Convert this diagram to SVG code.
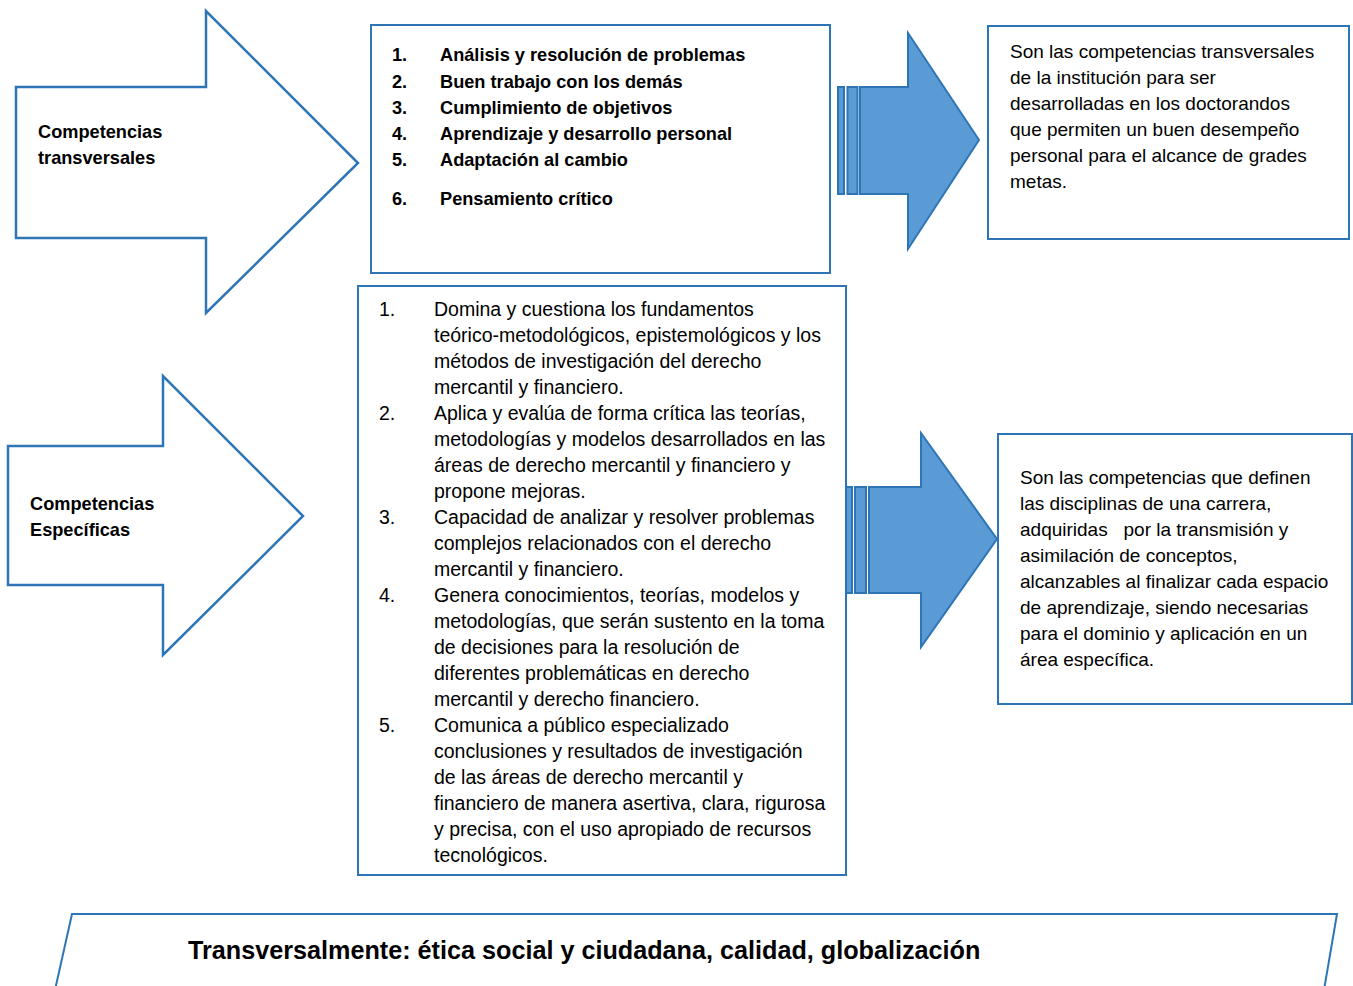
<svg xmlns="http://www.w3.org/2000/svg" width="1353" height="986" viewBox="0 0 1353 986">
<defs>
<style>
.box{fill:#fff;stroke:#2E75B6;stroke-width:2}
.warr{fill:#fff;stroke:#2E75B6;stroke-width:2.5;stroke-linejoin:miter}
.barr{fill:#5B9BD5;stroke:#2E75B6;stroke-width:2}
.t{font-family:"Liberation Sans",Arial,sans-serif;font-size:19px;fill:#000}
.tl{font-family:"Liberation Sans",Arial,sans-serif;font-size:19.5px;fill:#000}
.b{font-family:"Liberation Sans",Arial,sans-serif;font-size:18.2px;font-weight:bold;fill:#000}
.big{font-family:"Liberation Sans",Arial,sans-serif;font-size:25.2px;font-weight:bold;fill:#000}
</style>
<clipPath id="clipSpec"><rect x="358" y="286" width="488" height="580"/></clipPath>
</defs>
<rect width="1353" height="986" fill="#fff"/>

<g id="connectors">
<g id="arrow-blue-top">
<rect class="barr" x="838" y="87" width="6" height="107"/>
<rect class="barr" x="847.5" y="87" width="10" height="107"/>
<polygon class="barr" points="860,87 908,87 908,33 979,140 908,249 908,194 860,194"/>
</g>
<g id="arrow-blue-bottom">
<rect class="barr" x="846" y="487" width="6" height="106"/>
<rect class="barr" x="855" y="487" width="11" height="106"/>
<polygon class="barr" points="869,487 921,487 921,433 997,539 921,647 921,593 869,593"/>
</g>
</g>

<g id="node-comp-transversales">
<polygon class="warr" points="16,87 206,87 206,11 358,163 206,313 206,238 16,238"/>
<text class="b" x="38" y="138">Competencias</text>
<text class="b" x="38" y="164">transversales</text>
</g>

<g id="node-comp-especificas">
<polygon class="warr" points="8,446 163,446 163,376 303,516 163,655 163,585 8,585"/>
<text class="b" x="30" y="510">Competencias</text>
<text class="b" x="30" y="536">Específicas</text>
</g>

<g id="node-list-transversales">
<rect class="box" x="371" y="25" width="459" height="248"/>
<text class="b" x="392" y="61">1.</text><text class="b" x="440" y="61">Análisis y resolución de problemas</text>
<text class="b" x="392" y="88">2.</text><text class="b" x="440" y="88">Buen trabajo con los demás</text>
<text class="b" x="392" y="114">3.</text><text class="b" x="440" y="114">Cumplimiento de objetivos</text>
<text class="b" x="392" y="140">4.</text><text class="b" x="440" y="140">Aprendizaje y desarrollo personal</text>
<text class="b" x="392" y="166">5.</text><text class="b" x="440" y="166">Adaptación al cambio</text>
<text class="b" x="392" y="205">6.</text><text class="b" x="440" y="205">Pensamiento crítico</text>
</g>

<g id="node-desc-transversales">
<rect class="box" x="988" y="26" width="361" height="213"/>
<text class="t" x="1010" y="58">Son las competencias transversales</text>
<text class="t" x="1010" y="84">de la institución para ser</text>
<text class="t" x="1010" y="110">desarrolladas en los doctorandos</text>
<text class="t" x="1010" y="136">que permiten un buen desempeño</text>
<text class="t" x="1010" y="162">personal para el alcance de grades</text>
<text class="t" x="1010" y="188">metas.</text>
</g>

<g id="node-list-especificas">
<rect class="box" x="358" y="286" width="488" height="589"/>
<g clip-path="url(#clipSpec)">
<text class="tl" x="379" y="316">1.</text>
<text class="tl" x="434" y="316">Domina y cuestiona los fundamentos</text>
<text class="tl" x="434" y="342">teórico-metodológicos, epistemológicos y los</text>
<text class="tl" x="434" y="368">métodos de investigación del derecho</text>
<text class="tl" x="434" y="394">mercantil y financiero.</text>
<text class="tl" x="379" y="420">2.</text>
<text class="tl" x="434" y="420">Aplica y evalúa de forma crítica las teorías,</text>
<text class="tl" x="434" y="446">metodologías y modelos desarrollados en las</text>
<text class="tl" x="434" y="472">áreas de derecho mercantil y financiero y</text>
<text class="tl" x="434" y="498">propone mejoras.</text>
<text class="tl" x="379" y="524">3.</text>
<text class="tl" x="434" y="524">Capacidad de analizar y resolver problemas</text>
<text class="tl" x="434" y="550">complejos relacionados con el derecho</text>
<text class="tl" x="434" y="576">mercantil y financiero.</text>
<text class="tl" x="379" y="602">4.</text>
<text class="tl" x="434" y="602">Genera conocimientos, teorías, modelos y</text>
<text class="tl" x="434" y="628">metodologías, que serán sustento en la toma</text>
<text class="tl" x="434" y="654">de decisiones para la resolución de</text>
<text class="tl" x="434" y="680">diferentes problemáticas en derecho</text>
<text class="tl" x="434" y="706">mercantil y derecho financiero.</text>
<text class="tl" x="379" y="732">5.</text>
<text class="tl" x="434" y="732">Comunica a público especializado</text>
<text class="tl" x="434" y="758">conclusiones y resultados de investigación</text>
<text class="tl" x="434" y="784">de las áreas de derecho mercantil y</text>
<text class="tl" x="434" y="810">financiero de manera asertiva, clara, rigurosa</text>
<text class="tl" x="434" y="836">y precisa, con el uso apropiado de recursos</text>
<text class="tl" x="434" y="862">tecnológicos.</text>
</g>
</g>

<g id="node-desc-especificas">
<rect class="box" x="998" y="434" width="354" height="270"/>
<text class="t" x="1020" y="484">Son las competencias que definen</text>
<text class="t" x="1020" y="510">las disciplinas de una carrera,</text>
<text class="t" x="1020" y="536" xml:space="preserve">adquiridas   por la transmisión y</text>
<text class="t" x="1020" y="562">asimilación de conceptos,</text>
<text class="t" x="1020" y="588">alcanzables al finalizar cada espacio</text>
<text class="t" x="1020" y="614">de aprendizaje, siendo necesarias</text>
<text class="t" x="1020" y="640">para el dominio y aplicación en un</text>
<text class="t" x="1020" y="666">área específica.</text>
</g>

<g id="node-transversalmente">
<polygon class="box" points="72,914 1337,914 1324,990 55,990"/>
<text class="big" x="188" y="959">Transversalmente: ética social y ciudadana, calidad, globalización</text>
</g>
</svg>
